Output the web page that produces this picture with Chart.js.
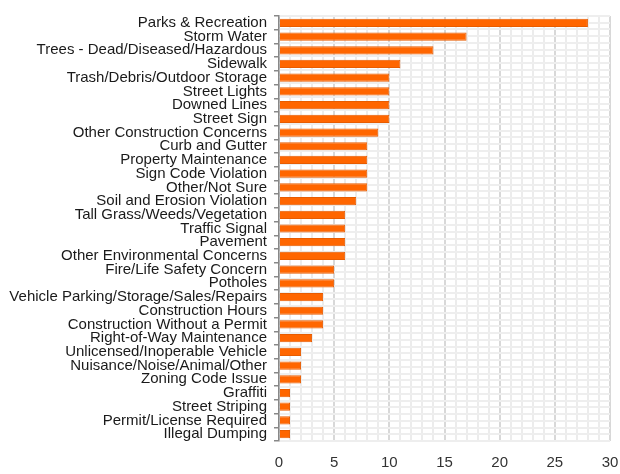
<!DOCTYPE html>
<html>
<head>
<meta charset="utf-8">
<script src="https://cdn.jsdelivr.net/npm/chart.js@4"></script>
<style>
  html, body { margin: 0; padding: 0; background: #fff; }
  #wrap { width: 620px; height: 474px; }
</style>
</head>
<body>
<div id="wrap"><canvas id="grafico"></canvas></div>
<script>
const categorias = [
  "Parks & Recreation", "Storm Water", "Trees - Dead/Diseased/Hazardous", "Sidewalk",
  "Trash/Debris/Outdoor Storage", "Street Lights", "Downed Lines", "Street Sign",
  "Other Construction Concerns", "Curb and Gutter", "Property Maintenance",
  "Sign Code Violation", "Other/Not Sure", "Soil and Erosion Violation",
  "Tall Grass/Weeds/Vegetation", "Traffic Signal", "Pavement",
  "Other Environmental Concerns", "Fire/Life Safety Concern", "Potholes",
  "Vehicle Parking/Storage/Sales/Repairs", "Construction Hours",
  "Construction Without a Permit", "Right-of-Way Maintenance",
  "Unlicensed/Inoperable Vehicle", "Nuisance/Noise/Animal/Other",
  "Zoning Code Issue", "Graffiti", "Street Striping", "Permit/License Required",
  "Illegal Dumping"
];
const valores = [28, 17, 14, 11, 10, 10, 10, 10, 9, 8, 8, 8, 8, 7, 6, 6, 6, 6, 5, 5, 4, 4, 4, 3, 2, 2, 2, 1, 1, 1, 1];
const xMin = 0, xMax = 30;

const ctx = document.getElementById('grafico').getContext('2d');
const chart = new Chart(ctx, {
  type: 'bar',
  data: {
    labels: categorias,
    datasets: [{
      data: valores,
      backgroundColor: '#ff6600',
      borderColor: '#e85c00',
      borderWidth: 1,
      barPercentage: 0.6,
      categoryPercentage: 1
    }]
  },
  options: {
    indexAxis: 'y',
    animation: false,
    responsive: true,
    maintainAspectRatio: false,
    layout: { padding: { top: 11, right: 10, bottom: 0, left: 0 } },
    scales: {
      x: {
        type: 'linear',
        min: xMin,
        max: xMax,
        ticks: {
          stepSize: 1,
          autoSkip: false,
          maxRotation: 0,
          minRotation: 0,
          color: '#333',
          font: { family: 'Liberation Sans', size: 15 },
          padding: 13,
          callback: (v) => (v % 5 === 0 ? v : '')
        },
        grid: {
          color: (c) => (c.tick && c.tick.value % 5 === 0 ? '#d8d8d8' : '#ececec'),
          lineWidth: 2,
          drawTicks: false
        },
        border: { display: false },
        afterFit: (s) => { s.height = 33; s.paddingLeft = 0; s.paddingRight = 0; }
      },
      y: {
        type: 'category',
        offset: true,
        ticks: {
          color: '#1a1a1a',
          font: { family: 'Liberation Sans', size: 15 },
          padding: 7,
          autoSkip: false
        },
        grid: { offset: true, drawOnChartArea: false, color: '#888', tickLength: 5, lineWidth: 1.5 },
        border: { display: true, color: '#888', width: 1.5 },
        afterFit: (s) => { s.width = 279; }
      },
      yGrade: {
        type: 'linear',
        position: 'right',
        min: 0,
        max: 31,
        ticks: { stepSize: 0.5, display: false },
        grid: { color: '#eeeeee', lineWidth: 2, drawTicks: false },
        border: { display: false },
        afterFit: (s) => { s.width = 0; }
      }
    },
    plugins: {
      legend: { display: false },
      tooltip: { enabled: false }
    }
  }
});
</script>
</body>
</html>
